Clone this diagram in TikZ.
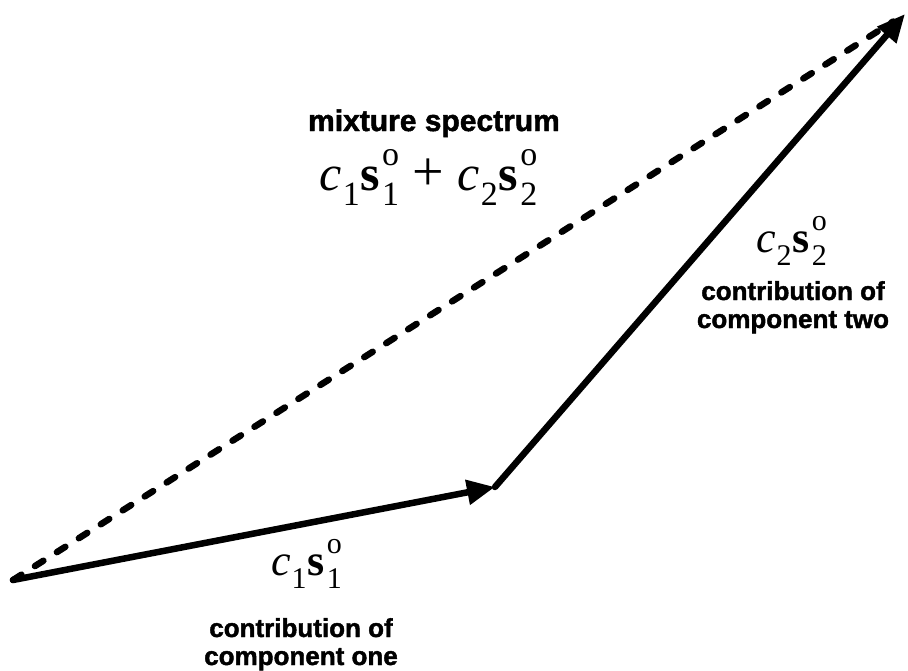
\documentclass[tikz,border=0pt]{standalone}
\usepackage{fontspec}
\setmainfont{Liberation Sans}
\newfontfamily\tms{Liberation Serif}
\newfontfamily\heavy[FakeBold=1.6]{Liberation Sans Bold}
\usetikzlibrary{arrows.meta}
\newcommand{\cvecterm}[4]{{\tms\fontsize{#2}{#2}\selectfont\textit{c}\kern1pt\raisebox{-#4}{\fontsize{#3}{#3}\selectfont #1}\kern1pt\textbf{s}\kern2pt\rlap{\raisebox{0.5em}{\fontsize{#3}{#3}\selectfont o}}\makebox[0.32em][l]{\raisebox{-#4}{\fontsize{#3}{#3}\selectfont #1}}}}
\tikzset{
  vecline/.style={line width=6.5pt, line cap=round, -{Triangle[length=28pt,width=24pt]}},
  dashline/.style={line width=6.5pt, line cap=round, dash pattern=on 10pt off 16pt},
  lbl/.style={inner sep=0pt, anchor=base, font=\heavy\fontsize{26}{30}\selectfont},
  biglbl/.style={inner sep=0pt, anchor=base, font=\heavy\fontsize{30}{36}\selectfont},
  mathlbl/.style={inner sep=0pt, anchor=base}
}
\begin{document}
\begin{tikzpicture}[x=1pt,y=-1pt]
\useasboundingbox (0,0) rectangle (908,670);
\coordinate (O) at (13,580);
\coordinate (A) at (495,487);
\coordinate (B) at (905,14);
\draw[dashline, shorten >=14pt] (O) -- (B);
\draw[vecline] (O) -- (A);
\draw[vecline] (A) -- (B);
\node[biglbl] (mix) at (434,131) {mixture spectrum};
\node[mathlbl] (sum) at (428,190) {\cvecterm{1}{50pt}{34pt}{15pt}{\tms\fontsize{56pt}{56pt}\selectfont\hspace{14pt}+\hspace{14pt}}\cvecterm{2}{50pt}{34pt}{15pt}};
\node[mathlbl] (t1) at (306,575) {\cvecterm{1}{44pt}{30pt}{13pt}};
\node[mathlbl] (t2) at (791,252) {\cvecterm{2}{44pt}{30pt}{13pt}};
\node[lbl] (r1) at (793,300) {contribution of};
\node[lbl] (r2) at (793,328) {component two};
\node[lbl] (b1) at (301,637) {contribution of};
\node[lbl] (b2) at (301,665) {component one};
\end{tikzpicture}
\end{document}
